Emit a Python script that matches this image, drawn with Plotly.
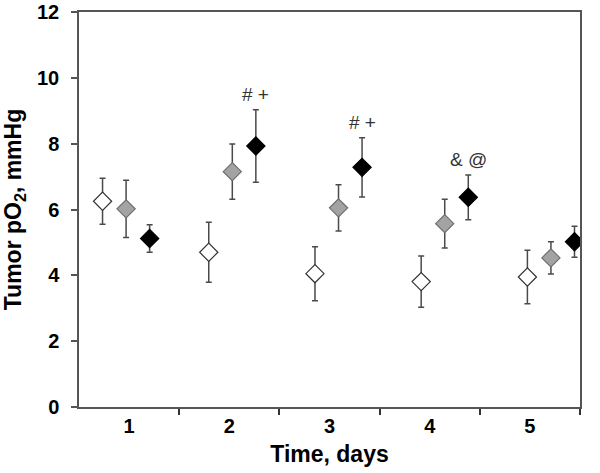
import plotly.graph_objects as go

days = [1, 2, 3, 4, 5]

# mean tumor pO2 (mmHg) and error (SD) for the three groups
white_mean = [6.25, 4.70, 4.05, 3.81, 3.95]
white_err = [0.70, 0.91, 0.82, 0.78, 0.81]
gray_mean = [6.02, 7.15, 6.05, 5.57, 4.53]
gray_err = [0.87, 0.84, 0.70, 0.74, 0.49]
black_mean = [5.12, 7.93, 7.28, 6.37, 5.02]
black_err = [0.42, 1.10, 0.90, 0.68, 0.47]

marks = ["", "# +", "# +", "& @", ""]

# groups in the original are spread a bit wider than the category ticks
step = 1.06
offset = 0.235


def xpos(shift):
    return [1 - 0.03 + (d - 1) * step + shift for d in days]


series = [
    ("white", white_mean, white_err, "white", "#333333", -offset),
    ("gray", gray_mean, gray_err, "#a3a3a3", "#6e6e6e", 0),
    ("black", black_mean, black_err, "black", "black", offset),
]

fig = go.Figure()
for name, mean, err, fill, edge, shift in series:
    fig.add_trace(go.Scatter(
        x=xpos(shift), y=mean, mode="markers", name=name,
        marker=dict(symbol="diamond", size=14, color=fill,
                    line=dict(color=edge, width=1.2)),
        error_y=dict(type="data", array=err, color="#4a4a4a",
                     thickness=1.5, width=3),
    ))

bx = xpos(offset)
for x, m, e, t in zip(bx, black_mean, black_err, marks):
    if t:
        fig.add_annotation(x=x, y=m + e, text=t, showarrow=False,
                           yanchor="bottom", yshift=3,
                           font=dict(family="Arial", size=19, color="#333333"))

fig.update_layout(
    width=600, height=473,
    margin=dict(l=79, r=20, t=12, b=66),
    plot_bgcolor="white", paper_bgcolor="white",
    showlegend=False,
    font=dict(family="Arial", color="black"),
)
fig.update_xaxes(
    range=[0.5, 5.5], tickvals=days, ticktext=[str(d) for d in days],
    ticks="", showgrid=False, zeroline=False, automargin=False,
    showline=True, linecolor="#555555", linewidth=1.5, mirror=True,
    tickfont=dict(size=20, weight="bold"), ticklabelstandoff=0,
    minor=dict(tickmode="array", tickvals=[1.5, 2.5, 3.5, 4.5, 5.5],
               ticks="outside", ticklen=6, tickwidth=1.5, tickcolor="#333333"),
    title=dict(text="<b>Time, days</b>", font=dict(size=23), standoff=10),
)
fig.update_yaxes(
    range=[0, 12], dtick=2, ticks="outside", ticklen=6, tickwidth=1.5,
    tickcolor="#555555", showgrid=False, zeroline=False, automargin=False,
    showline=True, linecolor="#555555", linewidth=1.5, mirror=True,
    tickfont=dict(size=20, weight="bold"), ticklabelstandoff=8,
    ticklabeloverflow="allow",
    title=dict(text="<b>Tumor pO<sub>2</sub>, mmHg</b>", font=dict(size=23), standoff=14),
)

# the page's default body margin would shift the chart by 8px
fig.write_html("out.html", config={"displayModeBar": False},
               post_script="document.body.style.margin='0';")
